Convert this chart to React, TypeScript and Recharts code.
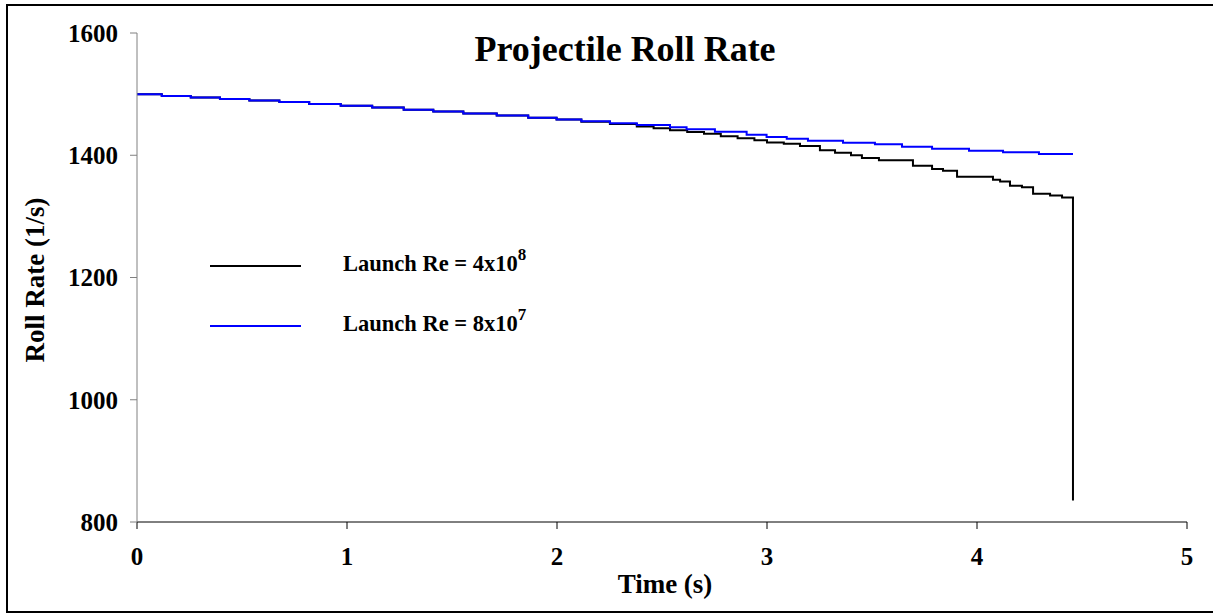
import { LineChart, Line, XAxis, YAxis } from "recharts";

// Re = 8x10^7 (blue)
const blueTimes = [0, 0.118, 0.256, 0.395, 0.535, 0.678, 0.82, 0.97, 1.12, 1.27, 1.411, 1.554, 1.713, 1.863, 1.998, 2.116, 2.252, 2.38, 2.538, 2.617, 2.752, 2.903, 2.998, 3.094, 3.195, 3.362, 3.514, 3.643, 3.786, 3.962, 4.124, 4.295, 4.457];
const blueRates = [1500, 1497, 1494.5, 1492, 1489.5, 1487, 1484, 1481, 1478, 1474.5, 1471.5, 1468.5, 1465, 1461.5, 1458.5, 1455.5, 1452.5, 1449.5, 1446, 1442.5, 1438.5, 1433.5, 1430, 1427, 1423.8, 1420.5, 1417.9, 1414, 1410.7, 1407.4, 1404.8, 1402, 1402];

// Re = 4x10^8 (black)
const blackTimes = [0, 0.118, 0.256, 0.395, 0.535, 0.678, 0.82, 0.97, 1.12, 1.27, 1.411, 1.554, 1.713, 1.863, 1.998, 2.116, 2.252, 2.38, 2.46, 2.538, 2.62, 2.7, 2.78, 2.86, 2.94, 3.0, 3.08, 3.157, 3.252, 3.324, 3.4, 3.452, 3.533, 3.695, 3.786, 3.838, 3.905, 4.076, 4.11, 4.157, 4.214, 4.267, 4.348, 4.405, 4.457, 4.457];
const blackRates = [1500, 1497, 1494.5, 1492, 1489.5, 1487, 1484, 1481, 1478, 1474.5, 1471.5, 1468.5, 1465, 1461.5, 1458.5, 1455, 1451, 1447, 1444, 1441, 1438, 1435, 1431, 1428, 1424.5, 1421, 1419, 1415, 1408, 1404, 1400, 1395.5, 1392, 1383, 1377.5, 1374.5, 1365, 1360, 1357, 1350, 1347.5, 1337, 1334, 1331, 1331, 835];

const xTicks = [0, 1, 2, 3, 4, 5];
const yTicks = [800, 1000, 1200, 1400, 1600];

const blueData = blueTimes.map((t, i) => ({ t, v: blueRates[i] }));
const blackData = blackTimes.map((t, i) => ({ t, v: blackRates[i] }));

const FONT = '"Liberation Serif", "Times New Roman", serif';

const legendItems = [
  { color: "#000000", base: "4", exp: "8" },
  { color: "#0000ff", base: "8", exp: "7" },
];

const App = () => {
  return (
    <div style={{ position: "absolute", left: 0, top: 0, width: 1213, height: 614, background: "#fff", fontFamily: FONT, overflow: "hidden" }}>
      <div style={{ position: "absolute", left: 6, top: 4, width: 1210, height: 609, border: "2px solid #000", boxSizing: "border-box" }} />
      <div style={{ position: "absolute", left: 0, top: 0 }}>
        <LineChart width={1213} height={614} margin={{ top: 33, right: 26, left: 57, bottom: 52 }}>
          <XAxis
            dataKey="t"
            type="number"
            domain={[0, 5]}
            ticks={xTicks}
            allowDuplicatedCategory={false}
            stroke="#000"
            tickSize={7}
            tickMargin={18}
            height={40}
            tick={{ fill: "#000", fontSize: 25, fontWeight: "bold", fontFamily: FONT }}
          />
          <YAxis
            type="number"
            domain={[800, 1600]}
            ticks={yTicks}
            stroke="#808080"
            tickSize={7}
            tickMargin={12}
            width={80}
            tick={{ fill: "#000", fontSize: 25, fontWeight: "bold", fontFamily: FONT }}
          />
          <Line data={blackData} dataKey="v" type="stepAfter" stroke="#000" strokeWidth={2} dot={false} isAnimationActive={false} />
          <Line data={blueData} dataKey="v" type="stepAfter" stroke="#0000ff" strokeWidth={2} dot={false} isAnimationActive={false} />
        </LineChart>
      </div>

      {/* legend */}
      <div style={{ position: "absolute", left: 210, top: 236, fontWeight: "bold", fontSize: 22.5 }}>
        {legendItems.map((item) => (
          <div key={item.color} style={{ display: "flex", alignItems: "center", height: 60 }}>
            <span style={{ display: "inline-block", width: 91, height: 2, background: item.color, marginRight: 42 }} />
            <span style={{ position: "relative", top: -2, whiteSpace: "nowrap" }}>
              Launch Re = {item.base}x10
              <sup style={{ fontSize: 17, lineHeight: 0, position: "relative", top: -3 }}>{item.exp}</sup>
            </span>
          </div>
        ))}
      </div>

      <div style={{ position: "absolute", left: 0, width: 1250, top: 28, textAlign: "center", fontSize: 36, fontWeight: "bold" }}>
        Projectile Roll Rate
      </div>
      <div style={{ position: "absolute", left: 0, width: 1330, top: 569, textAlign: "center", fontSize: 27, fontWeight: "bold" }}>
        Time (s)
      </div>
      <div
        style={{
          position: "absolute",
          left: 35,
          top: 280,
          transform: "translate(-50%, -50%) rotate(-90deg)",
          whiteSpace: "nowrap",
          fontSize: 27,
          fontWeight: "bold",
        }}
      >
        Roll Rate (1/s)
      </div>
    </div>
  );
};

export default App;
